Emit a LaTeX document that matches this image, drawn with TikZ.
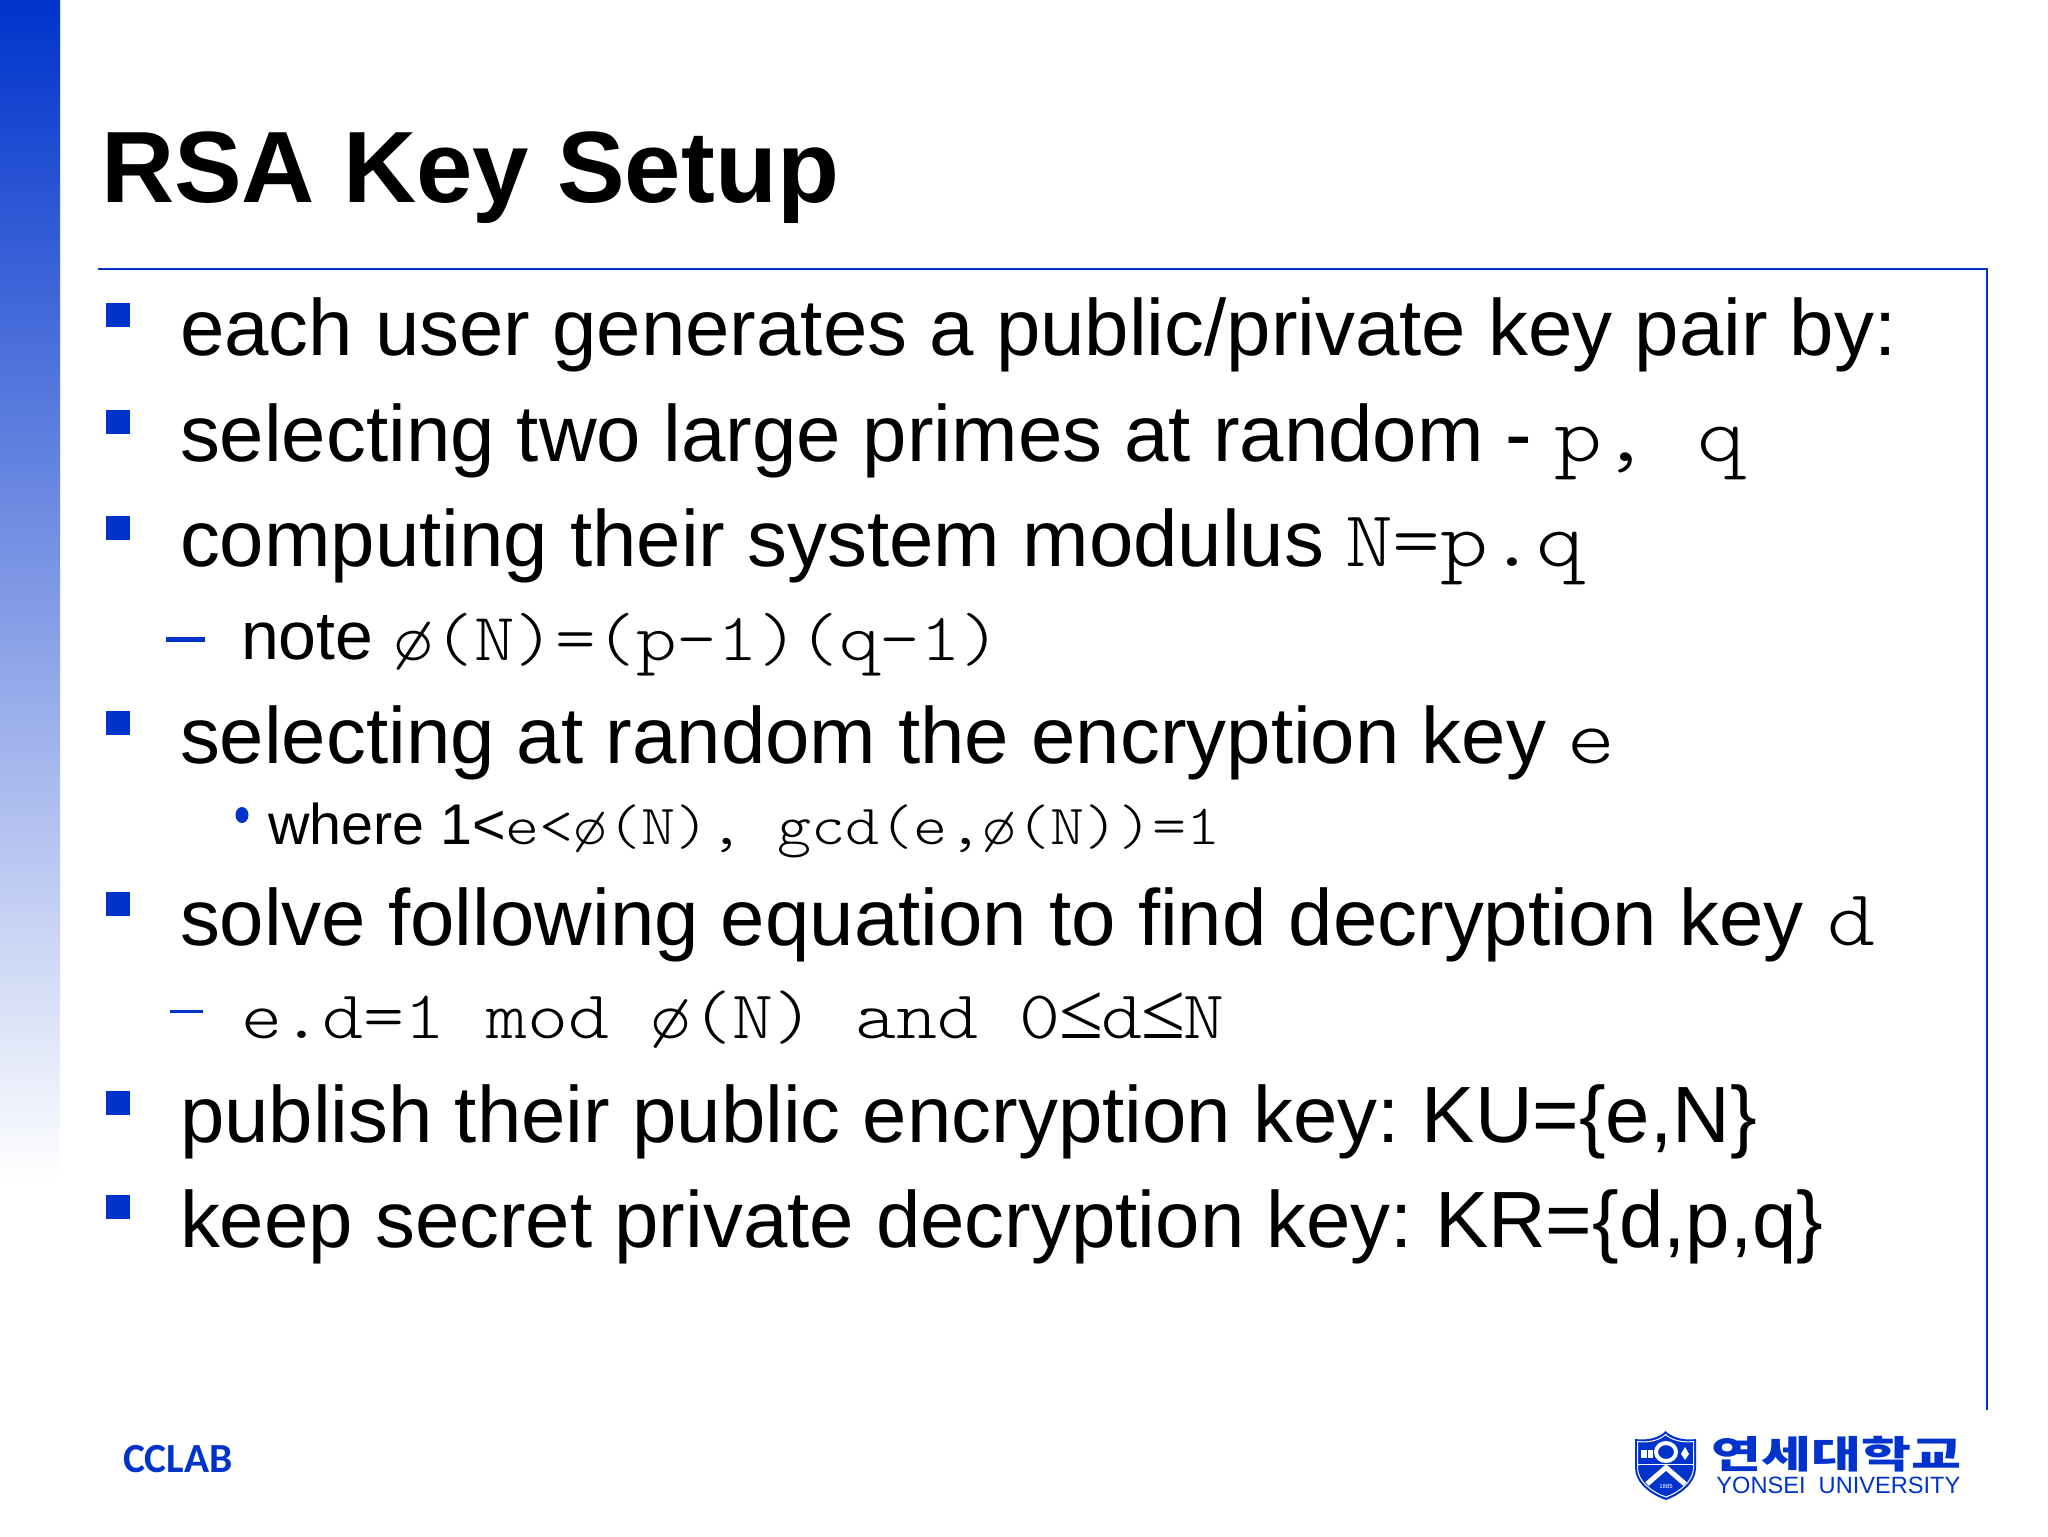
\documentclass[tikz,border=0pt]{standalone}
\usepackage{fontspec}
\usepackage{graphicx}
\setmainfont{Liberation Sans}
\newfontfamily\monof[FakeStretch=1.143]{Latin Modern Mono Light}
\newfontfamily\lefont{Liberation Serif}
\newfontfamily\carl{Carlito}
\newfontfamily\krf{Noto Sans CJK KR}
\definecolor{ybl}{RGB}{0,51,204}
\newcommand{\mainsz}{\fontsize{39.9}{46}\selectfont}
\newcommand{\subsz}{\fontsize{34}{40}\selectfont}
\newcommand{\whsz}{\fontsize{28.7}{34}\selectfont}
\newcommand{\mlg}{\monof\fontsize{39.9}{46}\selectfont}
\newcommand{\msm}{\monof\fontsize{33.8}{40}\selectfont}
\newcommand{\msl}{\monof\fontsize{34.15}{40}\selectfont}
\newcommand{\mwh}{\monof\fontsize{28.4}{34}\selectfont}
\newcommand{\leqg}{\makebox[20.5pt]{\lefont\fontsize{40}{44}\selectfont ≤}}
\frenchspacing
\begin{document}
\begin{tikzpicture}[x=0.5pt,y=-0.5pt,
  txt/.style={anchor=base west,inner sep=0pt,outer sep=0pt,text=black},
  sq/.style={fill=ybl,draw=none}]
\useasboundingbox (0,0) rectangle (2048,1536);
\fill[white] (0,0) rectangle (2048,1536);
\shade[top color=ybl,bottom color=white,draw=none] (0,0) rectangle (60,1180);
\coordinate (r0) at (98,269);
\coordinate (r1) at (1987,269);
\coordinate (r2) at (1987,1410);
\draw[ybl,line width=1.4pt] (r0) -- (r1) -- (r2);
\node[txt,font=\bfseries\fontsize{50.7}{60}\selectfont] (title) at (101,202) {RSA Key Setup};
% square bullets
\foreach \b in {355,462,568,763,944,1143,1247}
  \fill[sq] (106,\b-52) rectangle (130,\b-28);
\fill[ybl] (166,636.5) rectangle (205,641.5);
\fill[ybl] (170,1009.5) rectangle (203,1013);
\fill[ybl] (242,815) ellipse (6.5 and 8);
% lines
\node[txt,font=\mainsz] (l1) at (180,355) {each user generates a public/private key pair by:};
\node[txt,font=\mainsz] (l2) at (180,461) {selecting two large primes at random -};
\node[txt,font=\mlg] (l2m) at (1554,461) {p, q};
\node[txt,font=\mainsz] (l3) at (180,566) {computing their system modulus};
\node[txt,font=\mlg] (l3m) at (1345,566) {N=p.q};
\node[txt,font=\subsz] (l4) at (241,659) {note};
\node[txt,font=\msm] (l4m) at (393,660) {ø(N)=(p-1)(q-1)};
\node[txt,font=\mainsz] (l5) at (180,763) {selecting at random the encryption key};
\node[txt,font=\mlg] (l5m) at (1567,763) {e};
\node[txt,font=\whsz] (l6) at (268,844) {where 1<};
\node[txt,font=\mwh] (l6m) at (505,844) {e<ø(N), gcd(e,ø(N))=1};
\node[txt,font=\mainsz] (l7) at (180,945) {solve following equation to find decryption key};
\node[txt,font=\mlg] (l7m) at (1827,945) {d};
\node[txt,font=\msl] (l8) at (241,1038) {e.d=1 mod ø(N) and 0\leqg d\leqg N};
\node[txt,font=\mainsz] (l9) at (180,1142) {publish their public encryption key: KU=\{e,N\}};
\node[txt,font=\mainsz] (l10) at (180,1247) {keep secret private decryption key: KR=\{d,p,q\}};
% footer
\node[txt,text=ybl,font=\carl\bfseries\fontsize{20.7}{24}\selectfont] (cc) at (123,1472) {CCLAB};
% shield
\fill[ybl] (1635,1439) .. controls (1648,1441) and (1660,1437) .. (1665.5,1431)
  .. controls (1671,1437) and (1684,1441) .. (1696,1439)
  -- (1696,1468) .. controls (1696,1483) and (1680,1495) .. (1666,1500)
  .. controls (1651,1495) and (1635,1483) .. (1635,1468) -- cycle;
\draw[white,line width=0.5pt] (1637.5,1441.5) .. controls (1649,1443) and (1660,1440) .. (1665.5,1434.5)
  .. controls (1671,1440) and (1683,1443) .. (1693.5,1441.5)
  -- (1693.5,1468) .. controls (1693.5,1481) and (1679,1492.5) .. (1666,1497)
  .. controls (1652,1492.5) and (1637.5,1481) .. (1637.5,1468) -- cycle;
\draw[white,line width=0.5pt] (1638,1464) -- (1693,1464);
\draw[white,line width=2pt] (1666,1452) ellipse (10 and 9);
\fill[white] (1640.5,1450) rectangle (1646.5,1458);
\fill[white] (1647.5,1450) rectangle (1653,1458);
\fill[white] (1685,1447) -- (1689,1454) -- (1685,1460) -- (1681,1454) -- cycle;
\draw[white,line width=2.5pt] (1647,1484) -- (1666,1467.5) -- (1685,1484);
\node[anchor=center,inner sep=0pt,text=white,font=\fontsize{3}{3}\selectfont] (yr) at (1666,1486) {1885};
% university name
\node[anchor=base west,inner sep=0pt,text=ybl,font=\krf\bfseries\fontsize{19}{22}\selectfont] (kr) at (1711,1468) {\scalebox{1.43}[1]{연세대학교}};
\node[anchor=base west,inner sep=0pt,text=ybl,font=\fontsize{11.8}{14}\selectfont] (en) at (1716,1493) {YONSEI\ \ UNIVERSITY};
\end{tikzpicture}
\end{document}
